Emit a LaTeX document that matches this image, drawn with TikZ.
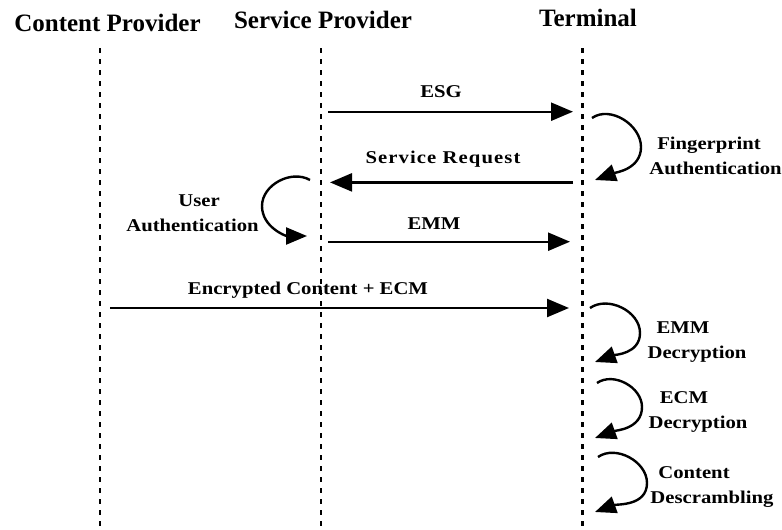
\documentclass[tikz,border=0pt]{standalone}
\usepackage{fontspec}
\setmainfont{Liberation Serif}
\newfontfamily\lblfont{Liberation Serif}[FakeStretch=1.15]
\newfontfamily\lblfontsp{Liberation Serif}[FakeStretch=1.15,LetterSpace=6]
\usetikzlibrary{arrows.meta}
\begin{document}
\begin{tikzpicture}[x=1pt,y=1pt,
  lifeline/.style={line width=2.7pt,dash pattern=on 4.5pt off 6.5pt},
  msg/.style={line width=2.4pt,-{Triangle[length=22pt,width=18pt]}},
  selfloop/.style={line width=2.4pt,-{Triangle[length=21pt,width=17pt]}},
  hdr/.style={anchor=base,inner sep=0pt,font=\fontsize{25}{30}\selectfont\bfseries},
  lbl/.style={anchor=base,inner sep=0pt,font=\lblfont\fontsize{18}{26}\selectfont\bfseries}]
\useasboundingbox (0,0) rectangle (782,-530);
% headers
\node[hdr] (hC) at (107.5,-31.7) {Content Provider};
\node[hdr] (hS) at (323,-28.5) {Service Provider};
\node[hdr] (hT) at (588,-26) {Terminal};
% lifelines
\coordinate (cTop) at (100,-48);  \coordinate (cBot) at (100,-530);
\coordinate (sTop) at (321,-48);  \coordinate (sBot) at (321,-530);
\coordinate (tTop) at (582.5,-48);\coordinate (tBot) at (582.5,-530);
\draw[lifeline] (cTop) -- (cBot);
\draw[lifeline] (sTop) -- (sBot);
\draw[lifeline] (tTop) -- (tBot);
% messages
\coordinate (esgA) at (328,-111.7); \coordinate (esgB) at (573,-111.7);
\draw[msg] (esgA) -- (esgB);
\node[lbl] (lESG) at (441,-97.3) {ESG};
\coordinate (srA) at (573,-182.4); \coordinate (srB) at (330,-182.4);
\draw[msg] (srA) -- (srB);
\node[lbl,font=\lblfontsp\fontsize{18}{26}\selectfont\bfseries] (lSR) at (443,-163.7) {Service Request};
\coordinate (emmA) at (328,-241.7); \coordinate (emmB) at (570,-241.7);
\draw[msg] (emmA) -- (emmB);
\node[lbl] (lEMM) at (434,-229.3) {EMM};
\coordinate (encA) at (110,-308); \coordinate (encB) at (569,-308);
\draw[msg] (encA) -- (encB);
\node[lbl] (lENC) at (308,-294.4) {Encrypted Content + ECM};
% fingerprint loop
\coordinate (fpS) at (592,-118); \coordinate (fpR) at (641,-147); \coordinate (fpE) at (595,-180);
\draw[selfloop] (fpS) to[out=35,in=90] (fpR) to[out=-90,in=20] (fpE);
\node[lbl] (lFP1) at (709,-149) {Fingerprint};
\node[lbl] (lFP2) at (715.6,-174) {Authentication};
% user authentication loop
\coordinate (uaS) at (310,-180); \coordinate (uaL) at (262,-206); \coordinate (uaE) at (307,-236);
\draw[selfloop] (uaS) to[out=150,in=90] (uaL) to[out=-90,in=180] (uaE);
\node[lbl] (lUA1) at (199,-206.7) {User};
\node[lbl] (lUA2) at (192.5,-231.7) {Authentication};
% EMM decryption loop
\coordinate (edS) at (590,-308); \coordinate (edR) at (640,-333); \coordinate (edE) at (595,-362);
\draw[selfloop] (edS) to[out=35,in=90] (edR) to[out=-90,in=20] (edE);
\node[lbl] (lED1) at (683,-333) {EMM};
\node[lbl] (lED2) at (697,-358) {Decryption};
% ECM decryption loop
\coordinate (cdS) at (597,-383); \coordinate (cdR) at (642,-407); \coordinate (cdE) at (595,-438);
\draw[selfloop] (cdS) to[out=35,in=90] (cdR) to[out=-90,in=20] (cdE);
\node[lbl] (lCD1) at (684,-403) {ECM};
\node[lbl] (lCD2) at (698,-428) {Decryption};
% content descrambling loop
\coordinate (dsS) at (598,-457); \coordinate (dsR) at (647,-483); \coordinate (dsE) at (595,-512);
\draw[selfloop] (dsS) to[out=35,in=90] (dsR) to[out=-90,in=20] (dsE);
\node[lbl] (lDS1) at (694,-478) {Content};
\node[lbl] (lDS2) at (712,-503) {Descrambling};
\end{tikzpicture}
\end{document}
